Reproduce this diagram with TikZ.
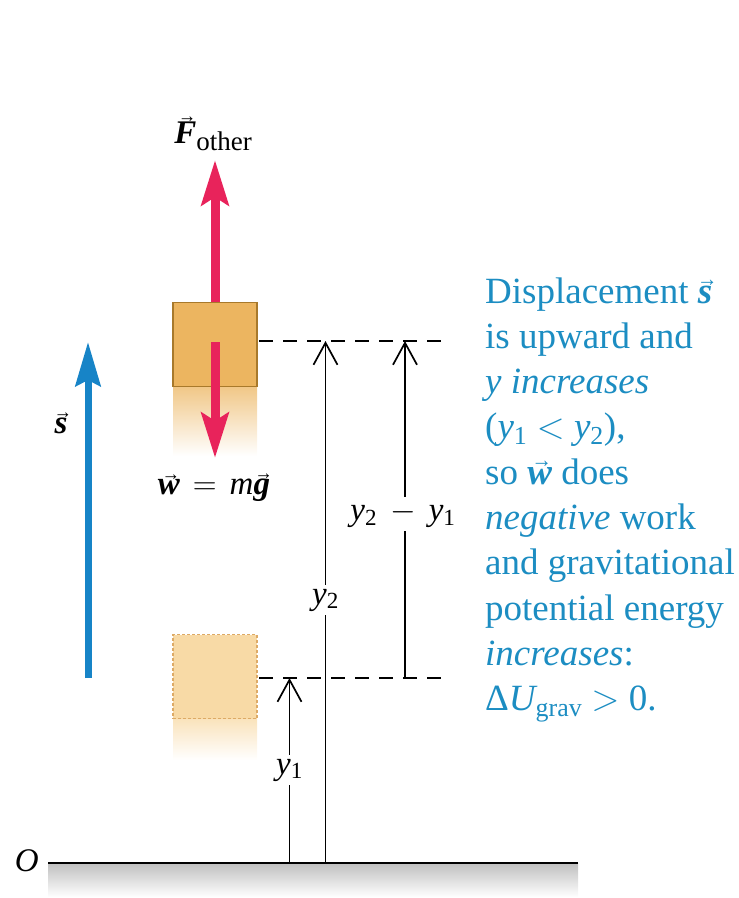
\RequirePackage{fix-cm}
\documentclass[tikz,border=0pt]{standalone}
\usepackage{amsmath}
\usepackage{graphicx}
\usepackage{fontspec}
\setmainfont{Liberation Serif}
\usetikzlibrary{arrows.meta}
\definecolor{boxfill}{HTML}{ECB560}
\definecolor{boxedge}{HTML}{A8792B}
\definecolor{ghostfill}{HTML}{F8DAA6}
\definecolor{ghostedge}{HTML}{DDAA66}
\definecolor{forcered}{HTML}{E8235B}
\definecolor{dispblue}{HTML}{1784C7}
\definecolor{txtblue}{HTML}{1C8DC2}
\newsavebox{\vecletterbox}
\newcommand{\bv}[1]{\begingroup\sbox{\vecletterbox}{\bfseries\itshape #1}\leavevmode\rlap{\hbox to\wd\vecletterbox{\hss\kern0.12em\raisebox{\dimexpr\ht\vecletterbox-0.02em\relax}{\scalebox{0.55}[0.6]{\normalfont →}}\hss}}\usebox{\vecletterbox}\endgroup}
\newcommand{\yy}[1]{\ensuremath{\mathit{y}_{\text{\upshape #1}}}}
\begin{document}
\begin{tikzpicture}[x=1pt,y=1pt,
  blockbox/.style={draw=boxedge, fill=boxfill, line width=1.5pt, minimum width=84pt, minimum height=84pt, inner sep=0pt},
  ghostbox/.style={draw=ghostedge, fill=ghostfill, dash pattern=on 3pt off 2pt, line width=1.1pt, minimum width=84pt, minimum height=84pt, inner sep=0pt},
  force/.style={draw=forcered, line width=9pt, -{Stealth[length=45pt,width=27pt,inset=8pt]}},
  disp/.style={draw=dispblue, line width=7pt, -{Stealth[length=44pt,width=25pt,inset=6pt]}},
  dimarrow/.style={line width=1.7pt, -{Straight Barb[length=22pt,width=24pt]}},
  guide/.style={line width=1.7pt, dash pattern=on 14pt off 10pt},
  lab/.style={font=\fontsize{33}{36}\selectfont, inner sep=1pt},
  dimlab/.style={lab, fill=white, inner sep=4pt},
  desc/.style={anchor=base west, inner sep=0pt, text=txtblue, font=\fontsize{37}{43}\selectfont}]
\useasboundingbox (0,0) rectangle (739,-898);

% fading shadows under the boxes
\shade[top color=boxfill!75, bottom color=white] (173,-387) rectangle (257,-456);
\shade[top color=ghostfill!75, bottom color=white] (173,-719) rectangle (257,-760);

% ground
\coordinate (gw) at (48,-863);
\coordinate (ge) at (578,-863);
\shade[top color=black!25, bottom color=white] (48,-863) rectangle (578,-897);
\draw[line width=1.6pt] (gw) -- (ge);
\node[lab, anchor=east] (O) at (40,-861) {\textit{O}};

% boxes
\node[ghostbox] (bot) at (215,-676.5) {};
\node[blockbox] (top) at (215,-344.5) {};

% forces
\coordinate (ftip) at (215,-160);
\draw[force] (top.north) -- (ftip);
\node[lab] (flab) at (213,-134) {\bv{F}\raisebox{-7pt}{\fontsize{27}{27}\selectfont other}};
\coordinate (wstart) at (215,-342);
\coordinate (wtip) at (215,-458);
\draw[force] (wstart) -- (wtip);
\node[lab] (wlab) at (214,-488) {\bv{w}\hspace{13pt}$=$\hspace{13pt}\textit{m}\bv{g}};

% displacement
\coordinate (s0) at (88,-678);
\coordinate (s1) at (88,-342);
\draw[disp] (s0) -- (s1);
\node[lab] (slab) at (61,-423) {\bv{s}};

% guide lines
\coordinate (ga) at (259,-341);
\coordinate (gb) at (447,-341);
\coordinate (gc) at (259,-678);
\coordinate (gd) at (447,-678);
\draw[guide] (ga) -- (gb);
\draw[guide] (gc) -- (gd);

% dimension arrows
\coordinate (y1b) at (289.5,-863);
\coordinate (y1t) at (289.5,-678);
\coordinate (y2b) at (325.5,-863);
\coordinate (y2t) at (325.5,-341);
\coordinate (dyb) at (405,-678);
\coordinate (dyt) at (405,-341);
\draw[dimarrow] (y1b) -- (y1t);
\draw[dimarrow] (y2b) -- (y2t);
\draw[dimarrow] (dyb) -- (dyt);
\draw[line width=1.7pt] (dyb) ++(-1,0) -- ++(2,0);
\node[dimlab] (y1lab) at (289.5,-770) {\yy{1}};
\node[dimlab] (y2lab) at (325.5,-600) {\yy{2}};
\node[dimlab] (dylab) at (403,-514) {\yy{2}\hspace{13pt}$-$\hspace{13pt}\yy{1}};

% description
\node[desc] (d1) at (485,-303) {Displacement \bv{s}};
\node[desc] (d2) at (485,-348.3) {is upward and};
\node[desc] (d3) at (485,-393.6) {\textit{y increases}};
\node[desc] (d4) at (485,-438.9) {(\yy{1} $<$ \yy{2}),};
\node[desc] (d5) at (485,-484.2) {so \bv{w} does};
\node[desc] (d6) at (485,-529.5) {\textit{negative} work};
\node[desc] (d7) at (485,-574.8) {and gravitational};
\node[desc] (d8) at (485,-620.1) {potential energy};
\node[desc] (d9) at (485,-665.4) {\textit{increases}:};
\node[desc] (d10) at (485,-710.7) {Δ$\mathit{U}_{\text{grav}}$ $>$ 0.};
\end{tikzpicture}
\end{document}
